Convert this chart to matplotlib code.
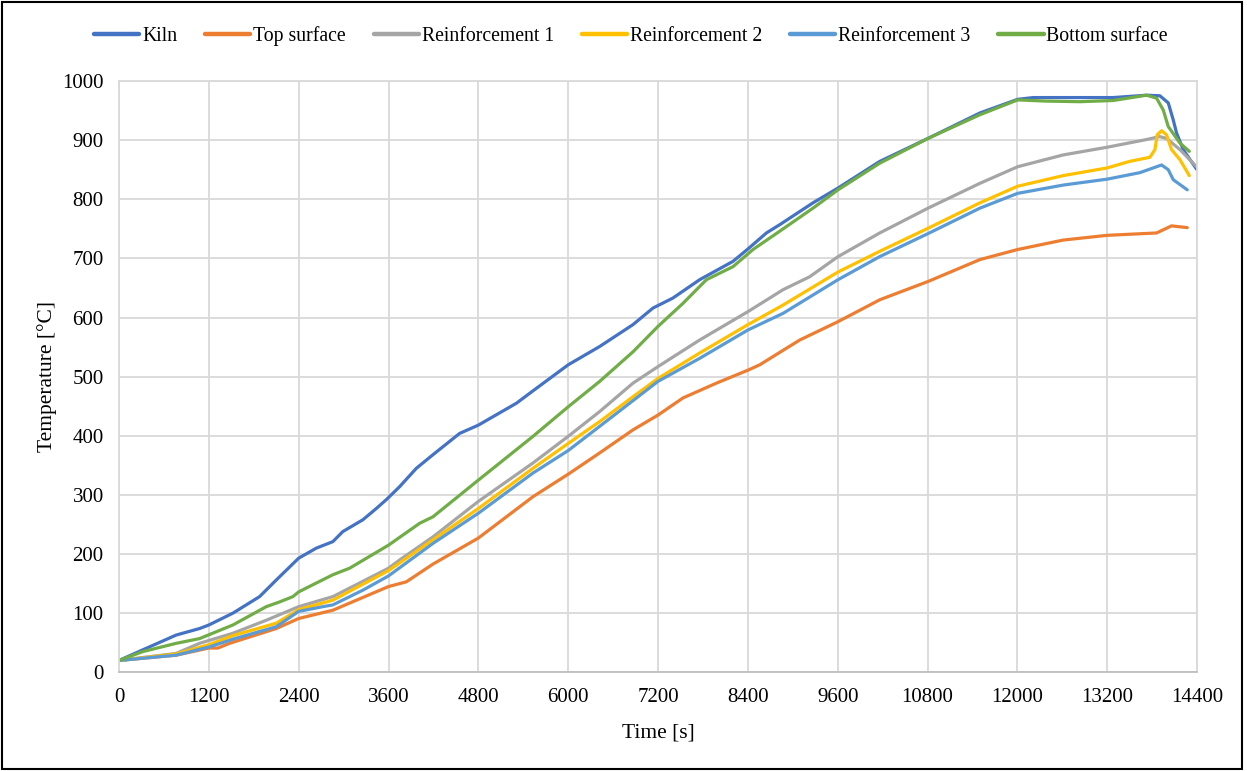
import matplotlib
matplotlib.use("Agg")
import matplotlib.pyplot as plt
from matplotlib.patches import Rectangle

plt.rcParams['font.family'] = ['Liberation Serif', 'DejaVu Serif']

####################### Données ############################################

t_kiln = [0, 318, 764, 1076, 1200, 1521, 1878, 2100, 2400, 2636, 2857, 2990, 3258, 3437, 3571,
          3749, 3972, 4194, 4550, 4800, 5308, 5530, 6000, 6421, 6866, 7133, 7400, 7757, 8202,
          8402, 8648, 8826, 9271, 9605, 10162, 10808, 11501, 12004, 12213, 13280, 13726, 13904,
          14016, 14083, 14127, 14216, 14394]
kiln = [20, 38, 63, 74, 80, 100, 128, 156, 193, 210, 221, 238, 258, 277, 292,
        314, 345, 368, 404, 418, 455, 476, 520, 551, 588, 616, 633, 664, 695,
        716, 743, 757, 794, 819, 864, 903, 946, 969, 972, 972, 976, 975,
        963, 934, 912, 884, 851]

t_top = [0, 764, 1200, 1321, 1477, 2100, 2400, 2857, 3600, 3838, 4194, 4800, 5530, 6000, 6421,
         6866, 7200, 7534, 7980, 8402, 8559, 8826, 9094, 9605, 10162, 10808, 11501, 12004,
         12613, 13200, 13860, 14060, 14270]
top = [20, 29, 41, 41, 49, 74, 91, 105, 145, 153, 183, 227, 297, 335, 371,
       410, 435, 464, 489, 511, 520, 541, 562, 593, 630, 661, 698, 715,
       731, 739, 743, 755, 752]

t_r1 = [0, 764, 1076, 1521, 1967, 2400, 2857, 3600, 3749, 4194, 4800, 5530, 6000, 6421, 6866,
        7200, 7757, 8402, 8870, 9227, 9605, 10162, 10808, 11501, 12004, 12613, 13200, 13726,
        13900, 13993, 14172, 14394]
r1 = [20, 32, 49, 66, 88, 111, 128, 176, 190, 229, 289, 354, 399, 441, 489,
      517, 562, 610, 647, 669, 703, 743, 785, 827, 855, 875, 888, 901,
      906, 903, 884, 855]

t_r2 = [0, 764, 1209, 1521, 2100, 2400, 2857, 3600, 4194, 4800, 5530, 6000, 6421, 6866, 7200,
        7757, 8402, 8870, 9605, 10162, 10808, 11501, 12004, 12613, 13200, 13499, 13771, 13838,
        13869, 13927, 13993, 14060, 14172, 14297]
r2 = [20, 31, 47, 62, 83, 106, 122, 172, 224, 277, 345, 387, 424, 466, 497,
      540, 588, 621, 677, 712, 751, 794, 822, 840, 853, 864, 871, 884,
      909, 916, 909, 884, 867, 840]

t_r3 = [0, 764, 1209, 1521, 2100, 2400, 2723, 2857, 3259, 3600, 4194, 4800, 5530, 6000, 6421,
        7200, 7757, 8402, 8870, 9605, 10162, 10808, 11501, 12004, 12613, 13200, 13637, 13927,
        14016, 14083, 14270]
r3 = [20, 29, 43, 56, 77, 103, 111, 114, 139, 163, 218, 269, 337, 375, 416,
      492, 531, 579, 607, 664, 703, 742, 785, 810, 824, 834, 845, 858,
      850, 833, 816]

t_bot = [0, 318, 764, 1076, 1521, 1967, 2145, 2323, 2400, 2857, 3080, 3600, 4016, 4194, 4800,
         5530, 6000, 6421, 6866, 7200, 7534, 7847, 8202, 8469, 8826, 9271, 9605, 10162, 10808,
         11501, 12004, 12390, 12836, 13280, 13726, 13860, 13949, 14016, 14172, 14297]
bot = [20, 35, 49, 57, 80, 111, 119, 128, 136, 165, 176, 215, 252, 263, 325,
       399, 449, 492, 542, 585, 624, 664, 686, 715, 746, 785, 816, 861, 903,
       943, 968, 966, 965, 967, 976, 971, 951, 923, 895, 881]

series = [
    ("Kiln", t_kiln, kiln, "#4472C4"),
    ("Top surface", t_top, top, "#ED7D31"),
    ("Reinforcement 1", t_r1, r1, "#A5A5A5"),
    ("Reinforcement 2", t_r2, r2, "#FFC000"),
    ("Reinforcement 3", t_r3, r3, "#5B9BD5"),
    ("Bottom surface", t_bot, bot, "#70AD47"),
]

x_ticks = list(range(0, 14401, 1200))
y_ticks = list(range(0, 1001, 100))

####################### Figure #########################

fig = plt.figure(figsize=(12.47, 7.71), dpi=100)
ax = fig.add_axes([119 / 1247, 1 - 672.3 / 771, (1197 - 119) / 1247, (672.3 - 81) / 771])

for name, t, v, c in series:
    ax.plot(t, v, color=c, lw=2.3, label=name, solid_capstyle="round")

ax.set_xlim(0, 14400)
ax.set_ylim(0, 1000)
ax.set_xticks(x_ticks)
ax.set_yticks(y_ticks)
ax.grid(True, color="#D9D9D9", lw=1.3)
ax.set_axisbelow(True)
for s in ax.spines.values():
    s.set_color("#D9D9D9")
    s.set_linewidth(1.3)
ax.spines["bottom"].set_color("#BFBFBF")
ax.tick_params(length=0, labelsize=15, pad=11, colors="black")

ax.set_xlabel("Time [s]", fontsize=15.5, labelpad=12)
ax.set_ylabel("Temperature [°C]", fontsize=15.5, labelpad=4)

leg = fig.legend(loc="center", bbox_to_anchor=(0.506, 1 - 36 / 771), ncol=6, frameon=False,
                 fontsize=14.2, handlelength=2.3, handletextpad=0.15, columnspacing=1.4)
for h in leg.get_lines():
    h.set_linewidth(3.2)

# cadre noir autour de la figure
fig.patches.append(Rectangle((0.002, 0.003), 0.994, 0.994, transform=fig.transFigure,
                             fill=False, ec="black", lw=1.5))

fig.savefig("out.png", dpi=100)
